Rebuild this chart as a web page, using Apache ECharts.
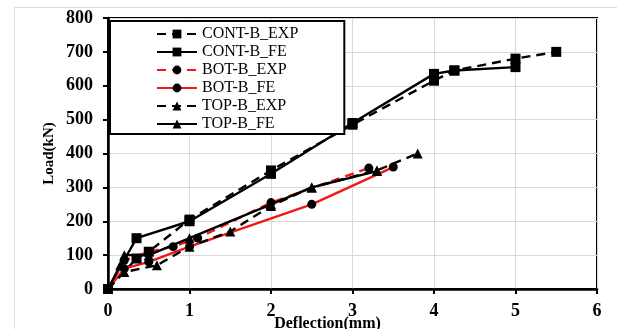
<!DOCTYPE html>
<html>
<head>
<meta charset="utf-8">
<script src="https://cdn.jsdelivr.net/npm/echarts@6/dist/echarts.min.js"></script>
<style>
  html, body { margin: 0; padding: 0; background: #fff; }
  #chart { width: 617px; height: 329px; }
</style>
</head>
<body>
<div id="chart"></div>
<script>
// Load–deflection curves: experimental (EXP) vs finite element (FE)
const xTicks = [0, 1, 2, 3, 4, 5, 6];
const yTicks = [0, 100, 200, 300, 400, 500, 600, 700, 800];

const contExpX = [0, 0.35, 0.5, 1, 2, 3, 4, 4.25, 5, 5.5];
const contExpY = [0, 90, 110, 205, 350, 485, 615, 645, 680, 700];

const contFeX = [0, 0.35, 1, 2, 3, 4, 4.25, 5];
const contFeY = [0, 150, 200, 340, 490, 635, 645, 655];

const botExpX = [0, 0.2, 0.5, 0.8, 1.1, 2, 3.2];
const botExpY = [0, 85, 110, 125, 150, 255, 357];

const botFeX = [0, 0.2, 0.5, 1, 2.5, 3.5];
const botFeY = [0, 60, 80, 125, 250, 360];

const topExpX = [0, 0.2, 0.6, 1, 1.5, 2, 2.5, 3.3, 3.8];
const topExpY = [0, 50, 70, 125, 170, 245, 300, 350, 400];

const topFeX = [0, 0.15, 0.2, 0.5, 1, 2, 2.5, 3.3];
const topFeY = [0, 70, 100, 100, 150, 250, 300, 348];

const pairs = (xs, ys) => xs.map((x, i) => [x, ys[i]]);

const serif = '"Liberation Serif", "Times New Roman", serif';
const BLACK = '#000';
const RED = '#f01818';

function curve(name, xs, ys, color, dashed, symbol, size) {
  return {
    name: name,
    type: 'line',
    data: pairs(xs, ys),
    symbol: symbol,
    symbolSize: size,
    showAllSymbol: true,
    lineStyle: { color: color, width: 2.4, type: dashed ? [9, 6] : 'solid' },
    itemStyle: { color: BLACK, borderWidth: 0 },
    emphasis: { disabled: true },
    animation: false
  };
}

const chart = echarts.init(document.getElementById('chart'), null, { renderer: 'canvas' });

chart.setOption({
  backgroundColor: '#fff',
  animation: false,
  grid: {
    left: 108, top: 18, right: 20, bottom: 40,
    outerBoundsMode: 'none', containLabel: false,
    show: true, borderColor: BLACK, borderWidth: 2, backgroundColor: 'transparent'
  },
  legend: {
    left: 110, top: 21,
    orient: 'vertical',
    itemWidth: 40, itemHeight: 11, itemGap: 2,
    padding: [5, 46, 2, 46],
    borderColor: BLACK, borderWidth: 2, borderRadius: 0,
    backgroundColor: '#fff',
    textStyle: { fontFamily: serif, fontSize: 16, color: BLACK },
    data: ['CONT-B_EXP', 'CONT-B_FE', 'BOT-B_EXP', 'BOT-B_FE', 'TOP-B_EXP', 'TOP-B_FE']
  },
  xAxis: {
    type: 'value', min: xTicks[0], max: xTicks[xTicks.length - 1], interval: 1,
    name: 'Deflection(mm)', nameLocation: 'middle', nameGap: 27, nameMoveOverlap: false,
    nameTextStyle: { fontFamily: serif, fontSize: 16, fontWeight: 'bold', color: BLACK, padding: [0, 50, 0, 0] },
    axisLine: { lineStyle: { color: BLACK, width: 2.5 } },
    axisTick: { show: true, length: 5, lineStyle: { color: BLACK, width: 2 } },
    axisLabel: { fontFamily: serif, fontSize: 18, fontWeight: 'bold', color: BLACK, margin: 13 },
    splitLine: { show: true, lineStyle: { color: '#d9d9d9', width: 1 } }
  },
  yAxis: {
    type: 'value', min: yTicks[0], max: yTicks[yTicks.length - 1], interval: 100,
    name: 'Load(kN)', nameLocation: 'middle', nameGap: 51, nameRotate: 90, nameMoveOverlap: false,
    nameTextStyle: { fontFamily: serif, fontSize: 15, fontWeight: 'bold', color: BLACK },
    axisLine: { show: true, lineStyle: { color: BLACK, width: 2.5 } },
    axisTick: { show: true, length: 5, lineStyle: { color: BLACK, width: 2 } },
    axisLabel: { fontFamily: serif, fontSize: 18, fontWeight: 'bold', color: BLACK, margin: 15 },
    splitLine: { show: true, lineStyle: { color: '#d9d9d9', width: 1 } }
  },
  graphic: [{
    type: 'rect', silent: true, z: -10,
    shape: { x: 14.5, y: 7.5, width: 700, height: 400 },
    style: { fill: 'none', stroke: '#dcdcdc', lineWidth: 1 }
  }],
  series: [
    curve('CONT-B_EXP', contExpX, contExpY, BLACK, true, 'rect', 10),
    curve('CONT-B_FE', contFeX, contFeY, BLACK, false, 'rect', 10),
    curve('BOT-B_EXP', botExpX, botExpY, RED, true, 'circle', 9),
    curve('BOT-B_FE', botFeX, botFeY, RED, false, 'circle', 9),
    curve('TOP-B_EXP', topExpX, topExpY, BLACK, true, 'triangle', 10),
    curve('TOP-B_FE', topFeX, topFeY, BLACK, false, 'triangle', 10)
  ]
});
</script>
</body>
</html>
